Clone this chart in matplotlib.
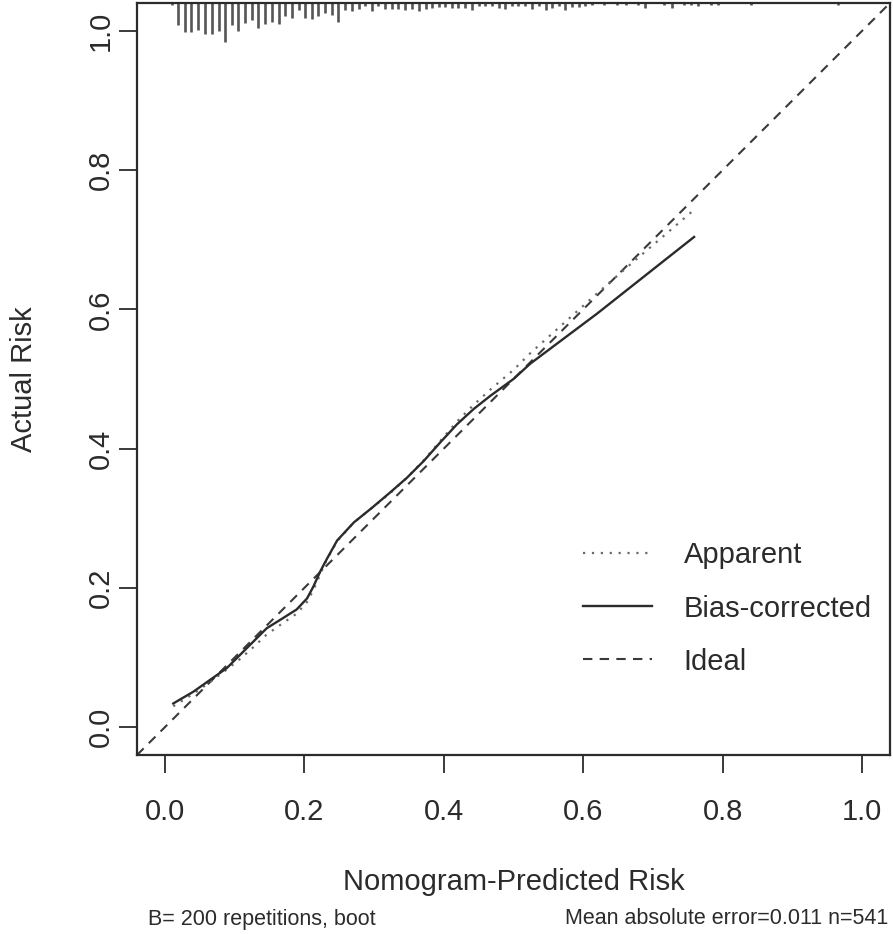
import matplotlib
matplotlib.use("Agg")
from matplotlib import pyplot as plt
from matplotlib.lines import Line2D

plt.rcParams['font.family'] = ['Liberation Sans', 'DejaVu Sans']

# calibration curves (predicted vs actual)
pred = [0.012, 0.041, 0.065, 0.089, 0.108, 0.127, 0.146, 0.170, 0.189, 0.204,
        0.213, 0.223, 0.232, 0.247, 0.271, 0.297, 0.323, 0.347, 0.371, 0.395,
        0.419, 0.443, 0.467, 0.500, 0.524, 0.572, 0.620, 0.668, 0.716, 0.759]
bias_corrected = [0.034, 0.051, 0.068, 0.085, 0.104, 0.123, 0.142, 0.157, 0.169, 0.185,
                  0.202, 0.224, 0.241, 0.268, 0.294, 0.315, 0.337, 0.358, 0.382, 0.409,
                  0.435, 0.457, 0.476, 0.500, 0.522, 0.558, 0.594, 0.632, 0.670, 0.704]
apparent = [0.030, 0.048, 0.065, 0.083, 0.098, 0.115, 0.133, 0.150, 0.163, 0.180,
            0.197, 0.220, 0.240, 0.267, 0.294, 0.315, 0.336, 0.358, 0.383, 0.411,
            0.439, 0.463, 0.485, 0.513, 0.537, 0.580, 0.623, 0.665, 0.706, 0.743]

# distribution of predicted risk (spike histogram at top)
rug_x = [0.010, 0.019, 0.029, 0.038, 0.048, 0.057, 0.067, 0.077, 0.086, 0.096,
         0.105, 0.115, 0.125, 0.134, 0.144, 0.153, 0.163, 0.172, 0.182, 0.192,
         0.201, 0.211, 0.220, 0.230, 0.240, 0.249, 0.259, 0.268, 0.278, 0.287,
         0.297, 0.306, 0.316, 0.326, 0.335, 0.345, 0.354, 0.364, 0.374, 0.383,
         0.393, 0.402, 0.412, 0.421, 0.431, 0.440, 0.450, 0.459, 0.469, 0.479,
         0.488, 0.498, 0.507, 0.517, 0.526, 0.536, 0.546, 0.555, 0.565, 0.574,
         0.584, 0.594, 0.603, 0.613, 0.630, 0.649, 0.661, 0.678, 0.689, 0.716,
         0.727, 0.745, 0.754, 0.764, 0.783, 0.793, 0.841, 0.965]
rug_n = [2, 21.7, 29.4, 29.4, 26.7, 31, 31, 28.4, 38.4, 21.7,
         27.7, 20, 17.4, 25, 20.7, 19.4, 20.7, 12.7, 15, 6.7,
         15, 16, 13.4, 10, 11.7, 19.4, 6.7, 8.4, 6, 3.4,
         7.7, 3.4, 6, 6, 6, 6.7, 6, 8.4, 6, 5,
         4, 4, 5, 5, 5, 6.7, 2.7, 3.4, 3.4, 5,
         6, 2.7, 3.4, 2.7, 6, 3.4, 7.4, 5, 2.7, 6.7,
         4, 4, 2.7, 2, 2, 2, 2, 2, 5, 2,
         5, 2, 2, 3.4, 2, 2, 2, 2]

ticks = [0.0, 0.2, 0.4, 0.6, 0.8, 1.0]
tick_labels = ['0.0', '0.2', '0.4', '0.6', '0.8', '1.0']

ink = '#2b2b2b'
fs = 21

fig = plt.figure(figsize=(8.93, 9.34), dpi=100)
ax = fig.add_axes([137 / 893, 179 / 934, 753 / 893, 752 / 934])
ax.set_xlim(-0.04, 1.04)
ax.set_ylim(-0.04, 1.04)

# ideal line
ax.plot([-0.04, 1.04], [-0.04, 1.04], color='#3a3a3a', lw=1.5,
        linestyle=(0, (4.5, 3.5)))
ax.plot(pred, apparent, color='#6a6a6a', lw=1.6, linestyle=(0, (1, 3)))
ax.plot(pred, bias_corrected, color=ink, lw=1.7)

# spikes from top border
top = 1.04
lens = [n / 694 for n in rug_n]
ax.vlines(rug_x, [top - l for l in lens], top, color='#555555', lw=1.9)

for s in ax.spines.values():
    s.set_color(ink)
    s.set_linewidth(1.6)

ax.set_xticks(ticks)
ax.set_xticklabels(tick_labels, fontsize=fs, color=ink)
ax.set_yticks(ticks)
ax.set_yticklabels(tick_labels, fontsize=fs, color=ink, rotation=90, va='center')
ax.tick_params(axis='x', length=13, width=1.3, color=ink, pad=18)
ax.tick_params(axis='y', length=13, width=1.3, color=ink, pad=3)

ax.set_xlabel('Nomogram-Predicted Risk', fontsize=fs, color=ink, labelpad=30)
ax.set_ylabel('Actual Risk', fontsize=fs, color=ink, labelpad=35)

handles = [Line2D([], [], color='#6a6a6a', lw=1.6, linestyle=(0, (1, 3))),
           Line2D([], [], color=ink, lw=1.7),
           Line2D([], [], color='#3a3a3a', lw=1.5, linestyle=(0, (4.5, 3.5)))]
ax.legend(handles, ['Apparent', 'Bias-corrected', 'Ideal'], loc='upper left',
          bbox_to_anchor=(0.592, 0.284), frameon=False, fontsize=fs,
          handlelength=2.36, handletextpad=1.1, labelspacing=0.86,
          borderpad=0, borderaxespad=0, labelcolor=ink)

fig.text(148 / 893, 1 - 919 / 934, 'B= 200 repetitions, boot', fontsize=15.5,
         color=ink, ha='left', va='center')
fig.text(888 / 893, 1 - 919 / 934, 'Mean absolute error=0.011 n=541', fontsize=15.5,
         color=ink, ha='right', va='center')

fig.savefig('out.png', dpi=100)
